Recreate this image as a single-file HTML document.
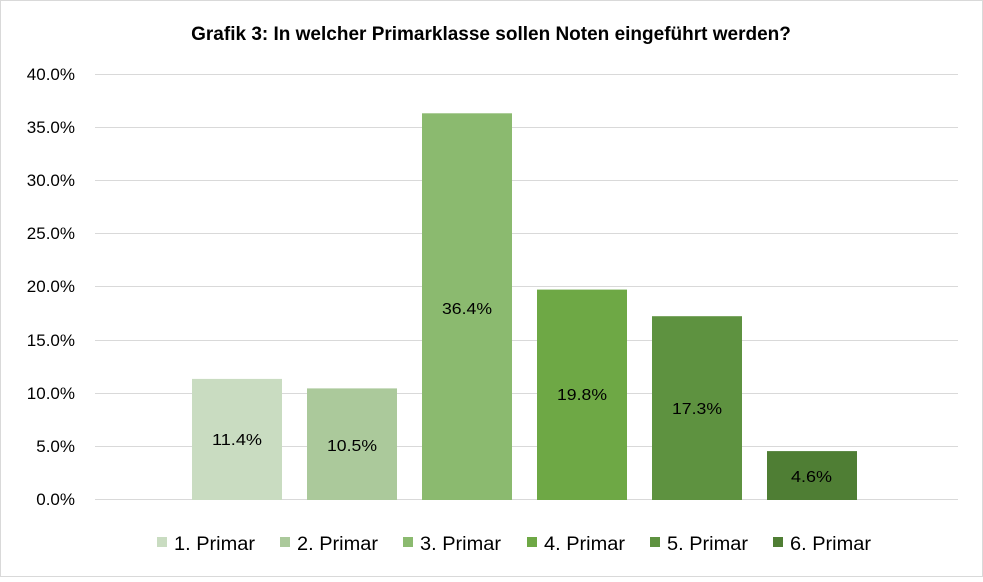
<!DOCTYPE html><html><head><style>body{margin:0;background:#fff}</style></head><body>
<svg width="983" height="577" xmlns="http://www.w3.org/2000/svg" font-family="Liberation Sans, Arial, sans-serif">
<rect x="0.5" y="0.5" width="982" height="576" fill="#fff" stroke="#d9d9d9"/>
<text x="491" y="40" text-anchor="middle" font-size="19" font-weight="bold" fill="#000">Grafik 3: In welcher Primarklasse sollen Noten eingeführt werden?</text>
<g stroke="#d9d9d9" stroke-width="1">
<line x1="95" x2="958" y1="74.5" y2="74.5"/><line x1="95" x2="958" y1="127.5" y2="127.5"/><line x1="95" x2="958" y1="180.5" y2="180.5"/><line x1="95" x2="958" y1="233.5" y2="233.5"/><line x1="95" x2="958" y1="286.5" y2="286.5"/><line x1="95" x2="958" y1="340.5" y2="340.5"/><line x1="95" x2="958" y1="393.5" y2="393.5"/><line x1="95" x2="958" y1="446.5" y2="446.5"/><line x1="95" x2="958" y1="499.5" y2="499.5"/>
</g>
<g font-size="17" fill="#000" text-anchor="end">
<text x="75" y="80">40.0%</text><text x="75" y="133">35.0%</text><text x="75" y="186">30.0%</text><text x="75" y="239">25.0%</text><text x="75" y="292">20.0%</text><text x="75" y="346">15.0%</text><text x="75" y="399">10.0%</text><text x="75" y="452">5.0%</text><text x="75" y="505">0.0%</text>
</g>
<rect x="192" y="378.9" width="90" height="121.1" fill="#c9dcc1"/>
<rect x="307" y="388.4" width="90" height="111.6" fill="#abc99b"/>
<rect x="422" y="113.3" width="90" height="386.7" fill="#8bba6f"/>
<rect x="537" y="289.6" width="90" height="210.4" fill="#6ea845"/>
<rect x="652" y="316.2" width="90" height="183.8" fill="#5e9240"/>
<rect x="767" y="451.1" width="90" height="48.9" fill="#4f7e34"/>
<g font-size="16" fill="#000">
<text x="212" y="445" textLength="50" lengthAdjust="spacingAndGlyphs">11.4%</text><text x="327" y="451" textLength="50" lengthAdjust="spacingAndGlyphs">10.5%</text><text x="442" y="314" textLength="50" lengthAdjust="spacingAndGlyphs">36.4%</text><text x="557" y="400" textLength="50" lengthAdjust="spacingAndGlyphs">19.8%</text><text x="672" y="414" textLength="50" lengthAdjust="spacingAndGlyphs">17.3%</text><text x="791" y="482" textLength="41" lengthAdjust="spacingAndGlyphs">4.6%</text>
</g>
<g font-size="19" fill="#000">
<rect x="157" y="537" width="10" height="10" fill="#c9dcc1"/><text x="174" y="550" textLength="81" lengthAdjust="spacingAndGlyphs">1. Primar</text>
<rect x="280" y="537" width="10" height="10" fill="#abc99b"/><text x="297" y="550" textLength="81" lengthAdjust="spacingAndGlyphs">2. Primar</text>
<rect x="403" y="537" width="10" height="10" fill="#8bba6f"/><text x="420" y="550" textLength="81" lengthAdjust="spacingAndGlyphs">3. Primar</text>
<rect x="527" y="537" width="10" height="10" fill="#6ea845"/><text x="544" y="550" textLength="81" lengthAdjust="spacingAndGlyphs">4. Primar</text>
<rect x="650" y="537" width="10" height="10" fill="#5e9240"/><text x="667" y="550" textLength="81" lengthAdjust="spacingAndGlyphs">5. Primar</text>
<rect x="773" y="537" width="10" height="10" fill="#4f7e34"/><text x="790" y="550" textLength="81" lengthAdjust="spacingAndGlyphs">6. Primar</text>
</g>
</svg></body></html>
